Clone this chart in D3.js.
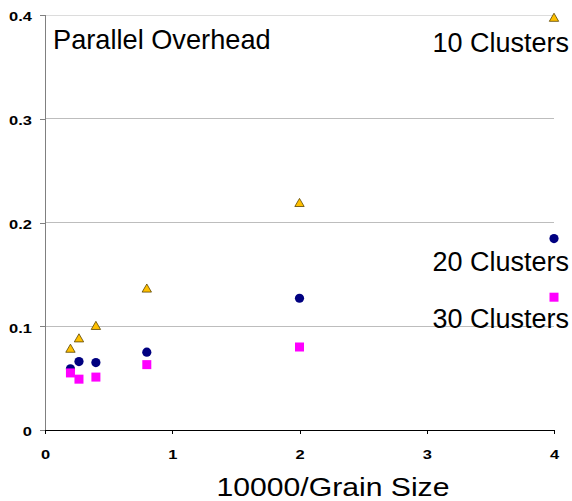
<!DOCTYPE html>
<html><head><meta charset="utf-8">
<script src="https://cdn.jsdelivr.net/npm/d3@7"></script>
<style>body{margin:0;background:#fff}svg{display:block;font-family:"Liberation Sans",Arial,sans-serif}
.tick text{font-weight:bold;font-family:"Liberation Sans",Arial,sans-serif}</style>
</head><body>
<svg id="c" width="572" height="501"></svg>
<script>
const xValues = [0.2, 0.267, 0.4, 0.8, 2, 4];
const clusters10 = [0.078, 0.088, 0.100, 0.136, 0.2185, 0.397];
const clusters20 = [0.059, 0.066, 0.065, 0.075, 0.127, 0.1845];
const clusters30 = [0.055, 0.049, 0.051, 0.063, 0.080, 0.128];
const xTicks = [0, 1, 2, 3, 4];
const yTicks = [0, 0.1, 0.2, 0.3, 0.4];
const seriesNames = ["10 Clusters", "20 Clusters", "30 Clusters"];

const svg = d3.select("#c");
const x = d3.scaleLinear().domain([0, 4]).range([45, 554]);
const y = d3.scaleLinear().domain([0, 0.4]).range([430, 15]);

// gridlines
svg.append("g").selectAll("line").data(yTicks.filter(d => d > 0)).join("line")
  .attr("x1", x(0)).attr("x2", x(4))
  .attr("y1", d => y(d)).attr("y2", d => y(d))
  .attr("stroke", d => d === 0.4 ? "#dcdcdc" : "#bdbdbd").attr("stroke-width", 1)
  .attr("shape-rendering", "crispEdges");

// y axis
const yAxis = d3.axisLeft(y).tickValues(yTicks).tickSize(5).tickPadding(8)
  .tickFormat(d => d === 0 ? "0" : d3.format(".1f")(d));
const gy = svg.append("g").attr("transform", `translate(${x(0)},0)`).call(yAxis);
gy.attr("font-family", null).attr("font-size", null);
gy.select(".domain").attr("stroke", "#808080").attr("shape-rendering", "crispEdges");
gy.selectAll(".tick line").attr("stroke", "#808080").attr("shape-rendering", "crispEdges");
gy.selectAll(".tick text")
  .style("font-size", "13.5px").style("font-weight", "bold").attr("fill", "#000")
  .attr("x", null).attr("dy", null).attr("dominant-baseline", "central")
  .attr("text-anchor", "end")
  .attr("transform", "translate(-13,1) scale(1.22,1)");

// x axis
const xAxis = d3.axisBottom(x).tickValues(xTicks).tickSize(4).tickPadding(13)
  .tickFormat(d3.format("d"));
const gx = svg.append("g").attr("transform", `translate(0,${y(0)})`).call(xAxis);
gx.attr("font-family", null).attr("font-size", null);
gx.select(".domain").attr("stroke", "#000").attr("shape-rendering", "crispEdges");
gx.selectAll(".tick line").attr("stroke", "#000").attr("shape-rendering", "crispEdges");
gx.selectAll(".tick text")
  .style("font-size", "13.5px").style("font-weight", "bold").attr("fill", "#000")
  .attr("y", null).attr("dy", null)
  .attr("transform", "translate(0,29) scale(1.22,1)");

// markers
const tri = d3.symbol().type(d3.symbolTriangle).size(38);
svg.append("g").selectAll("path").data(xValues.map((v, i) => [v, clusters10[i]])).join("path")
  .attr("d", tri)
  .attr("transform", d => `translate(${x(d[0])},${y(d[1]) + 0.5})`)
  .attr("fill", "#FFC000").attr("stroke", "#5a4400").attr("stroke-width", 0.8);

svg.append("g").selectAll("circle").data(xValues.map((v, i) => [v, clusters20[i]])).join("circle")
  .attr("cx", d => x(d[0])).attr("cy", d => y(d[1])).attr("r", 4.6)
  .attr("fill", "#000080");

svg.append("g").selectAll("rect").data(xValues.map((v, i) => [v, clusters30[i]])).join("rect")
  .attr("x", d => x(d[0]) - 4.5).attr("y", d => y(d[1]) - 4.5)
  .attr("width", 9).attr("height", 9)
  .attr("fill", "#FF00FF");

// texts
svg.append("text").attr("x", 53).attr("y", 49).attr("font-size", 27.2)
  .attr("fill", "#000").text("Parallel Overhead");

const labelY = [52, 271, 328];
svg.append("g").selectAll("text").data(seriesNames).join("text")
  .attr("x", 569).attr("y", (d, i) => labelY[i])
  .attr("text-anchor", "end").attr("font-size", 27).attr("fill", "#000")
  .text(d => d);

svg.append("text").attr("transform", "translate(333,496) scale(1.16,1)")
  .attr("text-anchor", "middle").attr("font-size", 26).attr("fill", "#000")
  .text("10000/Grain Size");
</script>
</body></html>
